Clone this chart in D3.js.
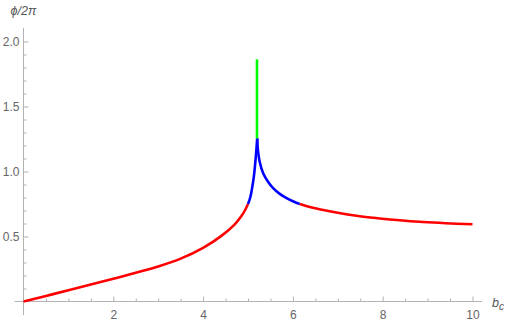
<!DOCTYPE html>
<html>
<head>
<meta charset="utf-8">
<script src="https://cdn.jsdelivr.net/npm/d3@7"></script>
<style>
  body { margin: 0; background: #fff; }
  .tick text { font-family: "Liberation Sans", Arial, sans-serif; font-size: 12px; fill: #666; }
  .lbl { font-family: "Liberation Sans", Arial, sans-serif; font-size: 12.5px; font-style: italic; fill: #555; }
</style>
</head>
<body>
<div class="chart"></div>
<script>
// curve pieces (b_c, phi/2pi)
var redLeftX = [0, 0.5, 1, 1.5, 2, 2.5, 3, 3.5, 4, 4.4, 4.7, 4.85, 4.93, 5.0];
var redLeftY = [0, 0.043, 0.086, 0.13, 0.175, 0.221, 0.27, 0.33, 0.413, 0.503, 0.592, 0.655, 0.7, 0.75];
var blueLeftX = [5.0, 5.05, 5.09, 5.13, 5.16, 5.185, 5.205];
var blueLeftY = [0.75, 0.8, 0.87, 0.96, 1.06, 1.16, 1.255];
var greenX = [5.2, 5.2];
var greenY = [1.255, 1.863];
var blueRightX = [5.205, 5.22, 5.26, 5.34, 5.45, 5.56, 5.7, 5.86, 6.0, 6.15];
var blueRightY = [1.255, 1.17, 1.075, 0.985, 0.92, 0.872, 0.83, 0.795, 0.771, 0.75];
var redRightX = [6.15, 6.4, 6.68, 7.0, 7.42, 7.8, 8.16, 8.5, 8.9, 9.4, 10.0];
var redRightY = [0.75, 0.725, 0.704, 0.683, 0.66, 0.644, 0.631, 0.621, 0.611, 0.602, 0.594];

var xMajor = [2, 4, 6, 8, 10];
var yMajor = [0.5, 1.0, 1.5, 2.0];

var svgWidth = 510;
var svgHeight = 327;

var svg = d3.select(".chart")
  .append("svg")
  .attr("width", svgWidth)
  .attr("height", svgHeight);

var x = d3.scaleLinear().domain([0, 10]).range([23.5, 472.5]);
var y = d3.scaleLinear().domain([0, 2]).range([301.5, 41.5]);

var axisColor = "#b3b3b3";

// minor ticks
var xMinor = d3.range(0.5, 10.01, 0.5).filter(d => xMajor.indexOf(d) < 0);
var yMinor = d3.range(0.1, 2.01, 0.1).map(d => +d.toFixed(1)).filter(d => yMajor.indexOf(d) < 0);

var xAxisG = svg.append("g").attr("transform", `translate(0, ${y(0)})`);
xAxisG.call(d3.axisBottom(x).tickValues(xMinor).tickSize(-3).tickFormat(""));
xAxisG.append("g").call(d3.axisBottom(x).tickValues(xMajor).tickSize(-5).tickPadding(9).tickFormat(d3.format("d")));

var yAxisG = svg.append("g").attr("transform", `translate(${x(0)}, 0)`);
yAxisG.call(d3.axisLeft(y).tickValues(yMinor).tickSize(-3).tickFormat(""));
yAxisG.append("g").call(d3.axisLeft(y).tickValues(yMajor).tickSize(-5).tickPadding(4).tickFormat(d3.format(".1f")));

svg.selectAll(".domain").remove();
svg.selectAll(".tick line").attr("stroke", axisColor);

// axis lines run a bit past the origin
svg.append("line")
  .attr("x1", x(-0.2)).attr("x2", x(10.21))
  .attr("y1", y(0)).attr("y2", y(0))
  .attr("stroke", axisColor);
svg.append("line")
  .attr("x1", x(0)).attr("x2", x(0))
  .attr("y1", y(-0.105)).attr("y2", y(2.105))
  .attr("stroke", axisColor);

// curve
var line = d3.line()
  .x(d => x(d[0]))
  .y(d => y(d[1]))
  .curve(d3.curveCatmullRom.alpha(0.5));

var pieces = [
  [redLeftX, redLeftY, "#ff0000"],
  [redRightX, redRightY, "#ff0000"],
  [blueLeftX, blueLeftY, "#0000ff"],
  [blueRightX, blueRightY, "#0000ff"],
  [greenX, greenY, "#00ff00"]
];

pieces.forEach(function (p) {
  var pts = p[0].map((v, i) => [v, p[1][i]]);
  svg.append("path")
    .datum(pts)
    .attr("d", line)
    .attr("fill", "none")
    .attr("stroke", p[2])
    .attr("stroke-width", 2.6);
});

// axis labels
svg.append("text")
  .attr("class", "lbl")
  .attr("x", x(0))
  .attr("y", 15)
  .attr("text-anchor", "middle")
  .text("ϕ/2π");

var bc = svg.append("text")
  .attr("class", "lbl")
  .attr("x", 492)
  .attr("y", 306.5);
bc.append("tspan").text("b");
bc.append("tspan").attr("dy", 3.5).style("font-size", "10px").text("c");
</script>
</body>
</html>
